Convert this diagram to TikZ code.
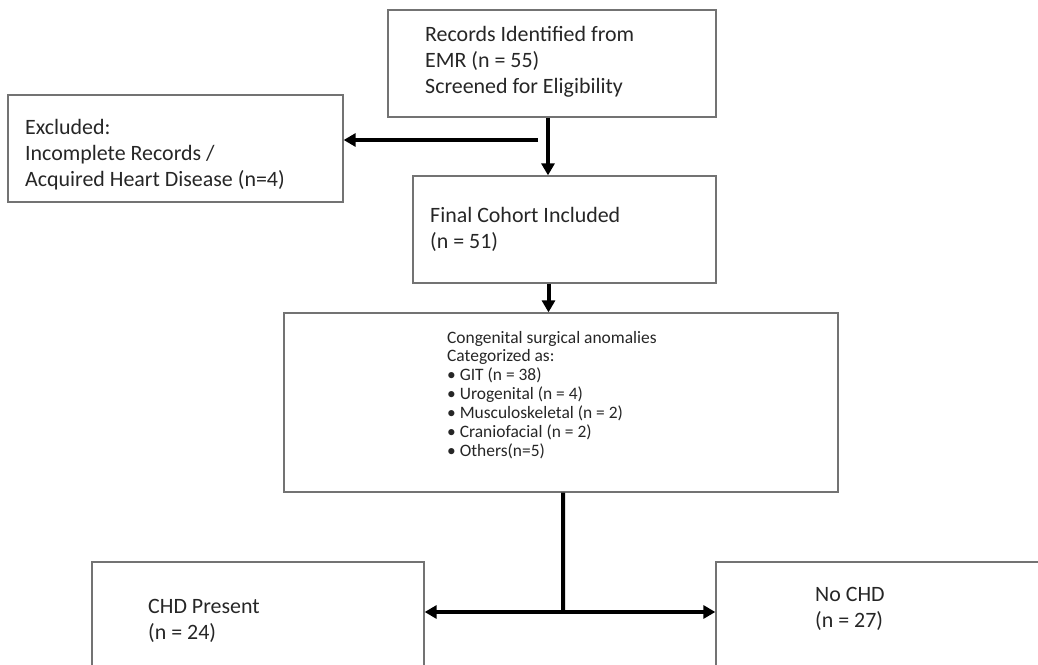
\documentclass[tikz,border=0pt]{standalone}
\usepackage{fontspec}
\setmainfont{Carlito}
\usetikzlibrary{arrows.meta}
\begin{document}
\begin{tikzpicture}[x=1bp,y=-1bp,>={Triangle[length=12bp,width=13bp]},
  box/.style={draw=black!55,line width=1.3bp,rectangle,inner sep=0pt},
  txt/.style={anchor=west,align=left,inner sep=0pt,text=black!85,font=\fontsize{22}{26}\selectfont},
  small/.style={anchor=west,align=left,inner sep=0pt,text=black!85,font=\fontsize{17.5}{19}\selectfont},
  flow/.style={line width=4bp,black}]
\useasboundingbox (0,0) rectangle (1038,665);
%%
  % Node: Records
  \node[box,minimum width=328bp,minimum height=107bp] (records) at (552,63.5) {};
  \node[txt] (recordsText) at (425,62) {Records Identified from\\EMR (n = 55)\\Screened for Eligibility};
  % Node: Excluded
  \node[box,minimum width=335bp,minimum height=107bp] (excluded) at (175.5,148.5) {};
  \node[txt] (excludedText) at (25,155) {Excluded:\\Incomplete Records /\\Acquired Heart Disease (n=4)};
  % Node: Final
  \node[box,minimum width=303bp,minimum height=107bp] (final) at (564.5,229.5) {};
  \node[txt] (finalText) at (430,229) {Final Cohort Included\\(n = 51)};
  % Node: Categories
  \node[box,minimum width=554bp,minimum height=179bp] (categories) at (561,402.5) {};
  \node[small] (categoriesText) at (447,395) {Congenital surgical anomalies\\Categorized as:\\\textbullet\ GIT (n = 38)\\\textbullet\ Urogenital (n = 4)\\\textbullet\ Musculoskeletal (n = 2)\\\textbullet\ Craniofacial (n = 2)\\\textbullet\ Others(n=5)};
  % Node: CHD
  \node[box,minimum width=332bp,minimum height=140bp] (chd) at (258,632) {};
  \node[txt] (chdText) at (148,621) {CHD Present\\(n = 24)};
  % Node: NoCHD
  \node[box,minimum width=340bp,minimum height=140bp] (nochd) at (886,632) {};
  \node[txt] (nochdText) at (815,609) {No CHD\\(n = 27)};
%%
  % Edge: Records -> Final
  \draw[flow,->] ([xshift=-4bp]records.south) -- ([xshift=-4bp]records.south |- final.north);
  % Edge: Records -> Excluded
  \coordinate (split) at (538,140);
  \draw[flow,->] (split) -- (split -| excluded.east);
  % Edge: Final -> Categories
  \draw[flow,->] ([xshift=-16bp]final.south) -- ([xshift=-16bp]final.south |- categories.north);
  % Edge: Categories -> CHD, NoCHD
  \coordinate (fork) at (563,612);
  \draw[flow] ([xshift=2bp]categories.south) -- (fork);
  \draw[flow,->] (fork) -- (fork -| chd.east);
  \draw[flow,->] (fork) -- (fork -| nochd.west);
%
\end{tikzpicture}
\end{document}
